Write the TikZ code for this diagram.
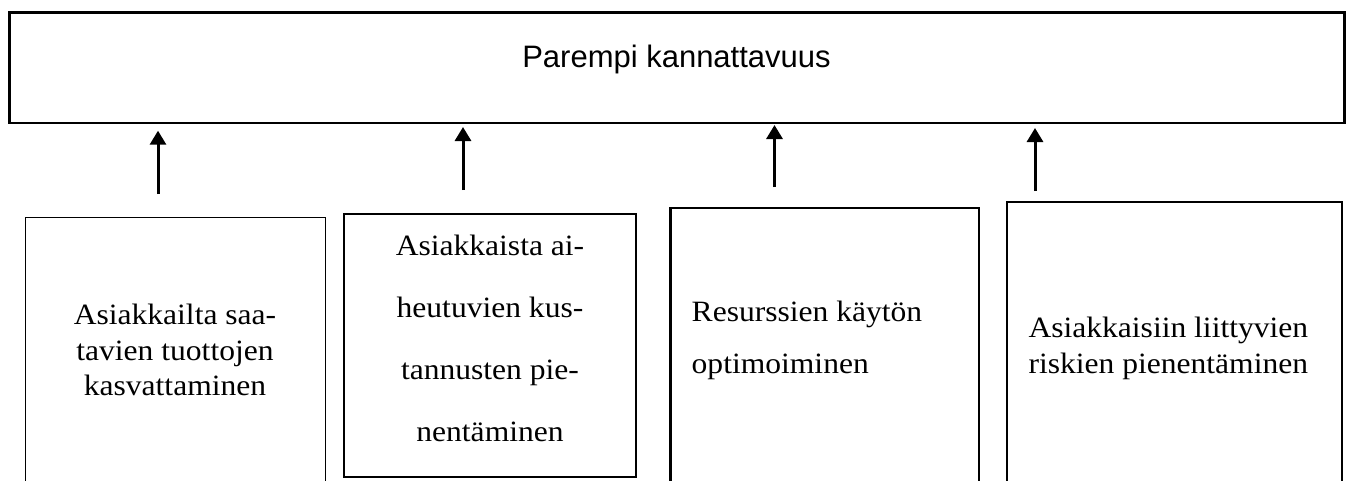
\documentclass[tikz,border=0pt]{standalone}
\usepackage{fontspec}
\setmainfont[FakeStretch=1.07]{Liberation Serif}
\newfontfamily\arialfont{Liberation Sans}
\usetikzlibrary{arrows.meta}
\begin{document}
\begin{tikzpicture}[x=1pt,y=-1pt,
  box/.style={draw, rectangle, inner sep=0pt, outer sep=0pt, anchor=north west},
  lbl/.style={inner sep=0pt, outer sep=0pt, font=\fontsize{29.5}{35.5}\selectfont},
  up/.style={line width=3pt, -{Triangle[width=16pt,length=14pt]}}]
\useasboundingbox (0,0) rectangle (1346,480);
\fill[white] (0,0) rectangle (1346,480);
\clip (0,0) rectangle (1346,480);
% top box
\node[box, line width=2.2pt, minimum width=1335pt, minimum height=110.5pt] (top) at (9.5,12.5) {};
\node[inner sep=0pt, anchor=north, font=\arialfont\fontsize{31}{36}\selectfont] (ttxt) at (676.5,45) {Parempi kannattavuus};
% lower boxes
\node[box, line width=1pt, minimum width=300pt, minimum height=300pt] (b1) at (25,217.5) {};
\node[box, line width=2.7pt, minimum width=292pt, minimum height=263pt] (b2) at (344,214) {};
\node[box, line width=2.2pt, minimum width=308.5pt, minimum height=300pt] (b3) at (670.5,208) {};
\node[box, line width=2.2pt, minimum width=335pt, minimum height=300pt] (b4) at (1007,202) {};
% texts
\node[lbl, anchor=north, align=center] (t1) at (175,304.2) {Asiakkailta saa-\\tavien tuottojen\\kasvattaminen};
\node[lbl, anchor=north, align=center, font=\fontsize{29.5}{62}\selectfont] (t2) at (490,234.9) {Asiakkaista ai-\\heutuvien kus-\\tannusten pie-\\nentäminen};
\node[lbl, anchor=north west, align=left, font=\fontsize{29.5}{52.6}\selectfont] (t3) at (691.7,300.6) {Resurssien käytön\\optimoiminen};
\node[lbl, anchor=north west, align=left, font=\fontsize{29.5}{36.6}\selectfont] (t4) at (1028.5,316.6) {Asiakkaisiin liittyvien\\riskien pienentäminen};
% arrows
\coordinate (a1) at (158,194);
\coordinate (a2) at (463,190);
\coordinate (a3) at (774.5,187);
\coordinate (a4) at (1035,191);
\draw[up, shorten >=7.7pt] (a1) -- (a1 |- top.south);
\draw[up, shorten >=4pt] (a2) -- (a2 |- top.south);
\draw[up, shorten >=2pt] (a3) -- (a3 |- top.south);
\draw[up, shorten >=5pt] (a4) -- (a4 |- top.south);
\end{tikzpicture}
\end{document}
